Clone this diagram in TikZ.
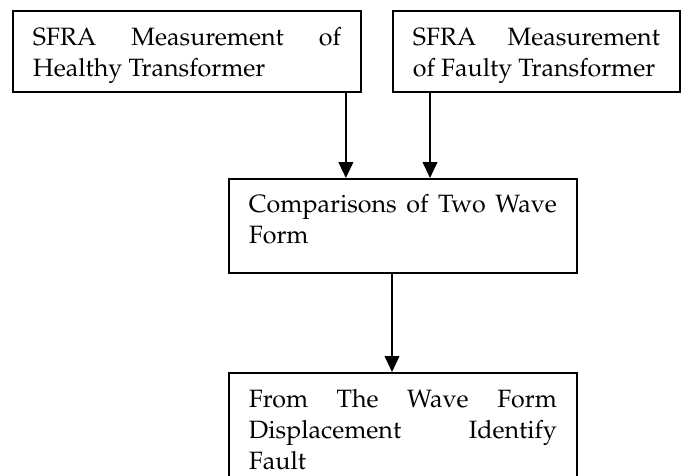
\documentclass[tikz,border=0pt]{standalone}
\usepackage[T1]{fontenc}
\usepackage{mathpazo}
\usetikzlibrary{arrows.meta}

\tikzset{
  stepbox/.style={draw, line width=1.4pt, anchor=north west, inner xsep=15pt, inner ysep=0pt,
    align=justify, text height=26.25pt, font=\fontsize{18.8}{23.25}\selectfont},
  flow/.style={line width=1.4pt, -{Triangle[length=12pt,width=11pt]}}
}

\begin{document}
\begin{tikzpicture}[x=0.75pt,y=-0.75pt]
  % Page frame
  \clip (0,0) rectangle (684,475);

  % Two measurements on top
  \node[stepbox, text width=231pt, text depth=34.5pt] (healthy) at (12,10)
    {SFRA Measurement of\linebreak Healthy Transformer};
  \node[stepbox, text width=185.25pt, text depth=34.5pt] (faulty) at (392,10)
    {SFRA Measurement\linebreak of Faulty Transformer};

  % Comparison and result
  \node[stepbox, text width=231pt, text height=25.5pt, text depth=45pt] (compare) at (228,178)
    {Comparisons of Two Wave\linebreak Form};
  \node[stepbox, text width=231pt, text depth=60pt] (identify) at (228,372)
    {From The Wave Form\linebreak Displacement Identify\linebreak Fault};

  % Arrows
  \draw[flow] ([xshift=-12pt]healthy.south east) -- ([xshift=-12pt]healthy.south east |- compare.north);
  \draw[flow] ([xshift=28.5pt]faulty.south west) -- ([xshift=28.5pt]faulty.south west |- compare.north);
  \draw[flow] ([xshift=123pt]compare.south west) -- ([xshift=123pt]compare.south west |- identify.north);
\end{tikzpicture}
\end{document}
